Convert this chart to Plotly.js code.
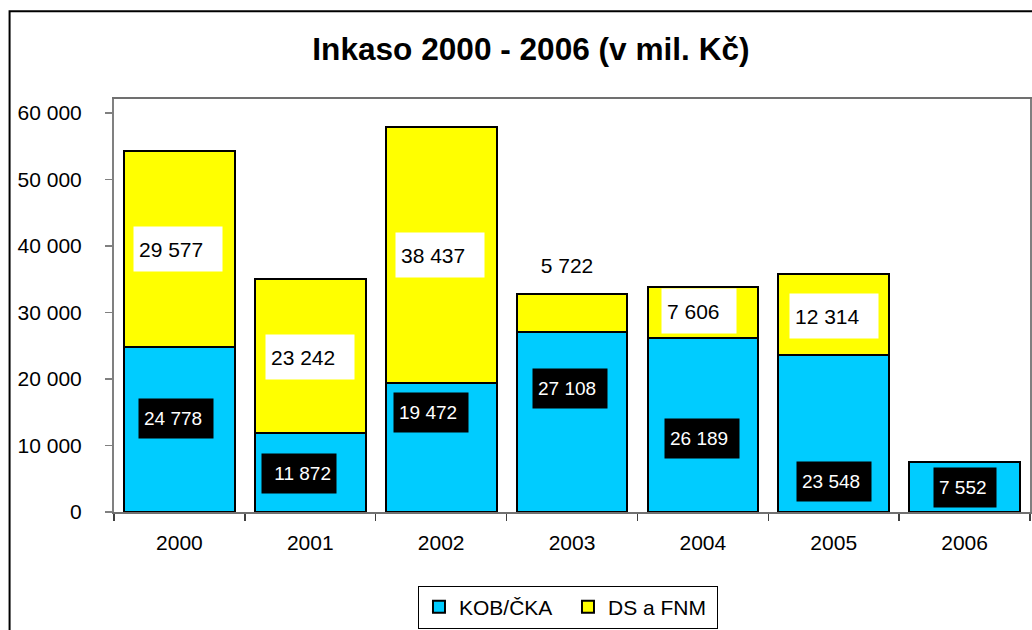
<!DOCTYPE html>
<html>
<head>
<meta charset="utf-8">
<script src="https://cdn.plot.ly/plotly-3.0.1.min.js"></script>
<style>
  html, body { margin: 0; padding: 0; background: #fff; overflow: hidden; }
  #chart { width: 1032px; height: 630px; }
</style>
</head>
<body>
<div id="chart"></div>
<script>
// ---- data ----
const years = ['2000', '2001', '2002', '2003', '2004', '2005', '2006'];
const kobCka = [24778, 11872, 19472, 27108, 26189, 23548, 7552];
const dsFnm = [29577, 23242, 38437, 5722, 7606, 12314, null];
const seriesNames = ['KOB/ČKA', 'DS a FNM'];
const yTicks = [0, 10000, 20000, 30000, 40000, 50000, 60000];

// ---- label placement (style / position, not data) ----
const kobLabelY = [14066, 5783, 14970, 18584, 11024, 4548, 3675];
const kobLabelShift = [-3, -11, -10, -2, -1, 0, 0];
const kobLabelW = [64, 64, 64, 64, 64, 64, 52];
const kobLabelAlign = ['left', 'right', 'left', 'left', 'left', 'left', 'left'];
const dsLabelY = [39488, 23253, 38584, 37154, 30271, 29548];
const dsLabelShift = [-1, 0, -1, -5, -4, 0];
const dsLabelW = [78, 78, 78, 60, 64, 78];

const FONT = 'Liberation Sans, Arial, Helvetica, sans-serif';
const fmt = v => String(v).replace(/\B(?=(\d{3})+(?!\d))/g, ' ');

const traces = [
  {
    type: 'bar', name: seriesNames[0], x: years, y: kobCka,
    marker: { color: '#00CCFF', line: { color: '#000', width: 2 } },
    hoverinfo: 'skip'
  },
  {
    type: 'bar', name: seriesNames[1], x: years, y: dsFnm,
    marker: { color: '#FFFF00', line: { color: '#000', width: 2 } },
    hoverinfo: 'skip'
  }
];

const annotations = [];
years.forEach((yr, i) => {
  annotations.push({
    x: i, y: kobLabelY[i], xref: 'x', yref: 'y', xshift: kobLabelShift[i],
    text: fmt(kobCka[i]), showarrow: false,
    font: { family: FONT, size: 19, color: '#fff' },
    bgcolor: '#000', borderpad: 5, width: kobLabelW[i], height: 29,
    align: kobLabelAlign[i], valign: 'middle'
  });
  if (dsFnm[i] !== null) {
    annotations.push({
      x: i, y: dsLabelY[i], xref: 'x', yref: 'y', xshift: dsLabelShift[i],
      text: fmt(dsFnm[i]), showarrow: false,
      font: { family: FONT, size: 21, color: '#000' },
      bgcolor: '#fff', borderpad: 5, width: dsLabelW[i], height: 34,
      align: i === 3 ? 'center' : 'left', valign: 'middle'
    });
  }
});

const layout = {
  width: 1032, height: 630,
  margin: { l: 114, r: 2, t: 99, b: 118, pad: 0 },
  paper_bgcolor: '#fff', plot_bgcolor: '#fff',
  font: { family: FONT, size: 21, color: '#000' },
  separators: ', ',
  barmode: 'stack',
  bargap: 0.154,
  showlegend: true,
  title: {
    text: '<b>Inkaso 2000 - 2006 (v mil. Kč)</b>',
    font: { family: FONT, size: 31.6, color: '#000' },
    xref: 'container', x: 0.5145, xanchor: 'center',
    yref: 'container', y: 0.923, yanchor: 'middle'
  },
  xaxis: {
    type: 'category', range: [-0.5, 6.5], autorange: false,
    showline: true, linecolor: '#707070', linewidth: 2, mirror: true,
    ticks: 'outside', tickson: 'boundaries', ticklen: 7, tickcolor: '#404040', tickwidth: 1.5,
    showgrid: false, zeroline: false, tickangle: 0,
    tickfont: { family: FONT, size: 21, color: '#000' },
    ticklabelstandoff: 11, fixedrange: true
  },
  yaxis: {
    range: [0, 62108], autorange: false,
    tickvals: yTicks, tickformat: ',d',
    showline: true, linecolor: '#808080', linewidth: 2, mirror: true,
    ticks: 'outside', ticklen: 7, tickcolor: '#808080', tickwidth: 1.5,
    showgrid: false, zeroline: false,
    tickfont: { family: FONT, size: 21, color: '#000' },
    ticklabelstandoff: 19, fixedrange: true
  },
  legend: {
    orientation: 'h',
    x: 0.4956, xanchor: 'center', xref: 'paper',
    y: -0.178, yanchor: 'top', yref: 'paper',
    entrywidth: 104, entrywidthmode: 'pixels',
    font: { family: FONT, size: 21, color: '#000' },
    bgcolor: '#fff', bordercolor: '#000', borderwidth: 1,
    traceorder: 'normal', itemclick: false, itemdoubleclick: false
  },
  shapes: [{
    type: 'rect', xref: 'paper', yref: 'paper', layer: 'below',
    x0: -0.1140, x1: 1.2, y0: 1.2124, y1: -0.5,
    line: { color: '#000', width: 2 }, fillcolor: 'rgba(0,0,0,0)'
  }],
  annotations: annotations
};

Plotly.newPlot('chart', traces, layout, { displayModeBar: false, staticPlot: true });
</script>
</body>
</html>
